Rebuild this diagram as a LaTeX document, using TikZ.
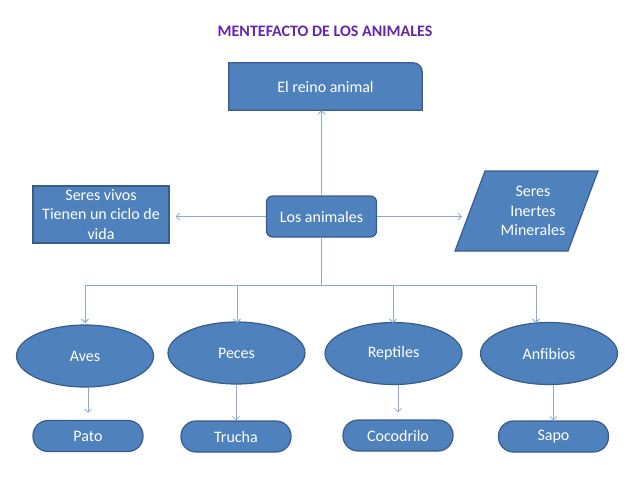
\documentclass[tikz,border=0pt]{standalone}
\usepackage{fontspec}
\setmainfont{Carlito}
\usetikzlibrary{arrows.meta,backgrounds,shapes.geometric}
\definecolor{boxfill}{RGB}{79,129,189}
\definecolor{boxline}{RGB}{56,93,138}
\definecolor{conncol}{RGB}{140,170,205}
\definecolor{titlecol}{RGB}{100,38,170}
\begin{document}
\begin{tikzpicture}[x=1pt,y=-1pt,
  lbl/.style={text=white,font=\fontsize{16}{19.5}\selectfont,align=center,inner sep=0pt},
  shapestyle/.style={fill=boxfill,draw=boxline,line width=1.2pt},
  rbox/.style={lbl,shapestyle,rectangle,rounded corners=6pt,minimum width=110pt,minimum height=41pt},
  ell/.style={lbl,shapestyle,ellipse,minimum width=137pt,minimum height=62pt},
  pill/.style={lbl,shapestyle,rectangle,rounded corners=15pt,minimum width=110pt,minimum height=31pt},
  conn/.style={draw=conncol,line width=0.8pt},
  arr/.style={conn,-{Straight Barb[length=3.5pt,width=7pt]}}]
\begin{scope}[on background layer]
\fill[white] (0,0) rectangle (640,480);
\end{scope}
\useasboundingbox (0,0) rectangle (640,480);

% title
\node[font=\fontsize{16}{19}\selectfont\bfseries,text=titlecol] (title) at (325,31) {MENTEFACTO DE LOS ANIMALES};

% top box with one rounded corner
\node[lbl,minimum width=193pt,minimum height=47pt] (reino) at (325.5,86.5) {El reino animal};
\begin{scope}[on background layer]
\draw[shapestyle] (reino.south west) -- (reino.north west) -- ([xshift=-9pt]reino.north east)
  arc[start angle=90,end angle=0,radius=9pt] -- (reino.south east) -- cycle;
\end{scope}

% middle row
\node[lbl,shapestyle,rectangle,minimum width=136pt,minimum height=57pt] (vivos) at (101,214.5) {Seres vivos\\Tienen un ciclo de\\vida};
\node[rbox] (animales) at (321.5,216.5) {Los animales};
\node[lbl] (inertes) at (533,211) {Seres\\Inertes\\Minerales};
\begin{scope}[on background layer]
\draw[shapestyle] (485,171) -- (598,171) -- (568,251) -- (455,251) -- cycle;
\end{scope}

% ellipses
\node[ell] (aves) at (85,356) {Aves};
\node[ell] (peces) at (236.5,353) {Peces};
\node[ell] (reptiles) at (393.5,353.5) {Reptiles};
\node[ell] (anfibios) at (549,353.5) {Anfibios};

% bottom pills
\node[pill] (pato) at (88,436) {Pato};
\node[pill] (trucha) at (236,436.5) {Trucha};
\node[pill] (cocodrilo) at (398,435.5) {Cocodrilo};
\node[pill] (sapo) at (553.5,436.5) {Sapo};

% connectors
\coordinate (inL) at (462,216.5);
\coordinate (bus) at (321.5,285);
\coordinate (a1) at (85,323);
\coordinate (a2) at (237,323);
\coordinate (a3) at (393,323);
\coordinate (a4) at (536,323);
\draw[arr] (animales.north) -- (animales.north |- reino.south);
\draw[arr] (animales.west) -- ([xshift=6pt]vivos.east |- animales.west);
\draw[arr] (animales.east) -- (inL);
\draw[conn] (animales.south) -- (bus);
\draw[arr] (bus) -| (a1);
\draw[arr] (bus) -| (a2);
\draw[arr] (bus) -| (a3);
\draw[arr] (bus) -| (a4);
\draw[arr] (aves.south -| pato.north) -- ([yshift=7pt]pato.north);
\draw[arr] (peces.south -| trucha.north) -- (trucha.north);
\draw[arr] (reptiles.south -| cocodrilo.north) -- ([yshift=7pt]cocodrilo.north);
\draw[arr] (anfibios.south -| sapo.north) -- (sapo.north);
\end{tikzpicture}
\end{document}
